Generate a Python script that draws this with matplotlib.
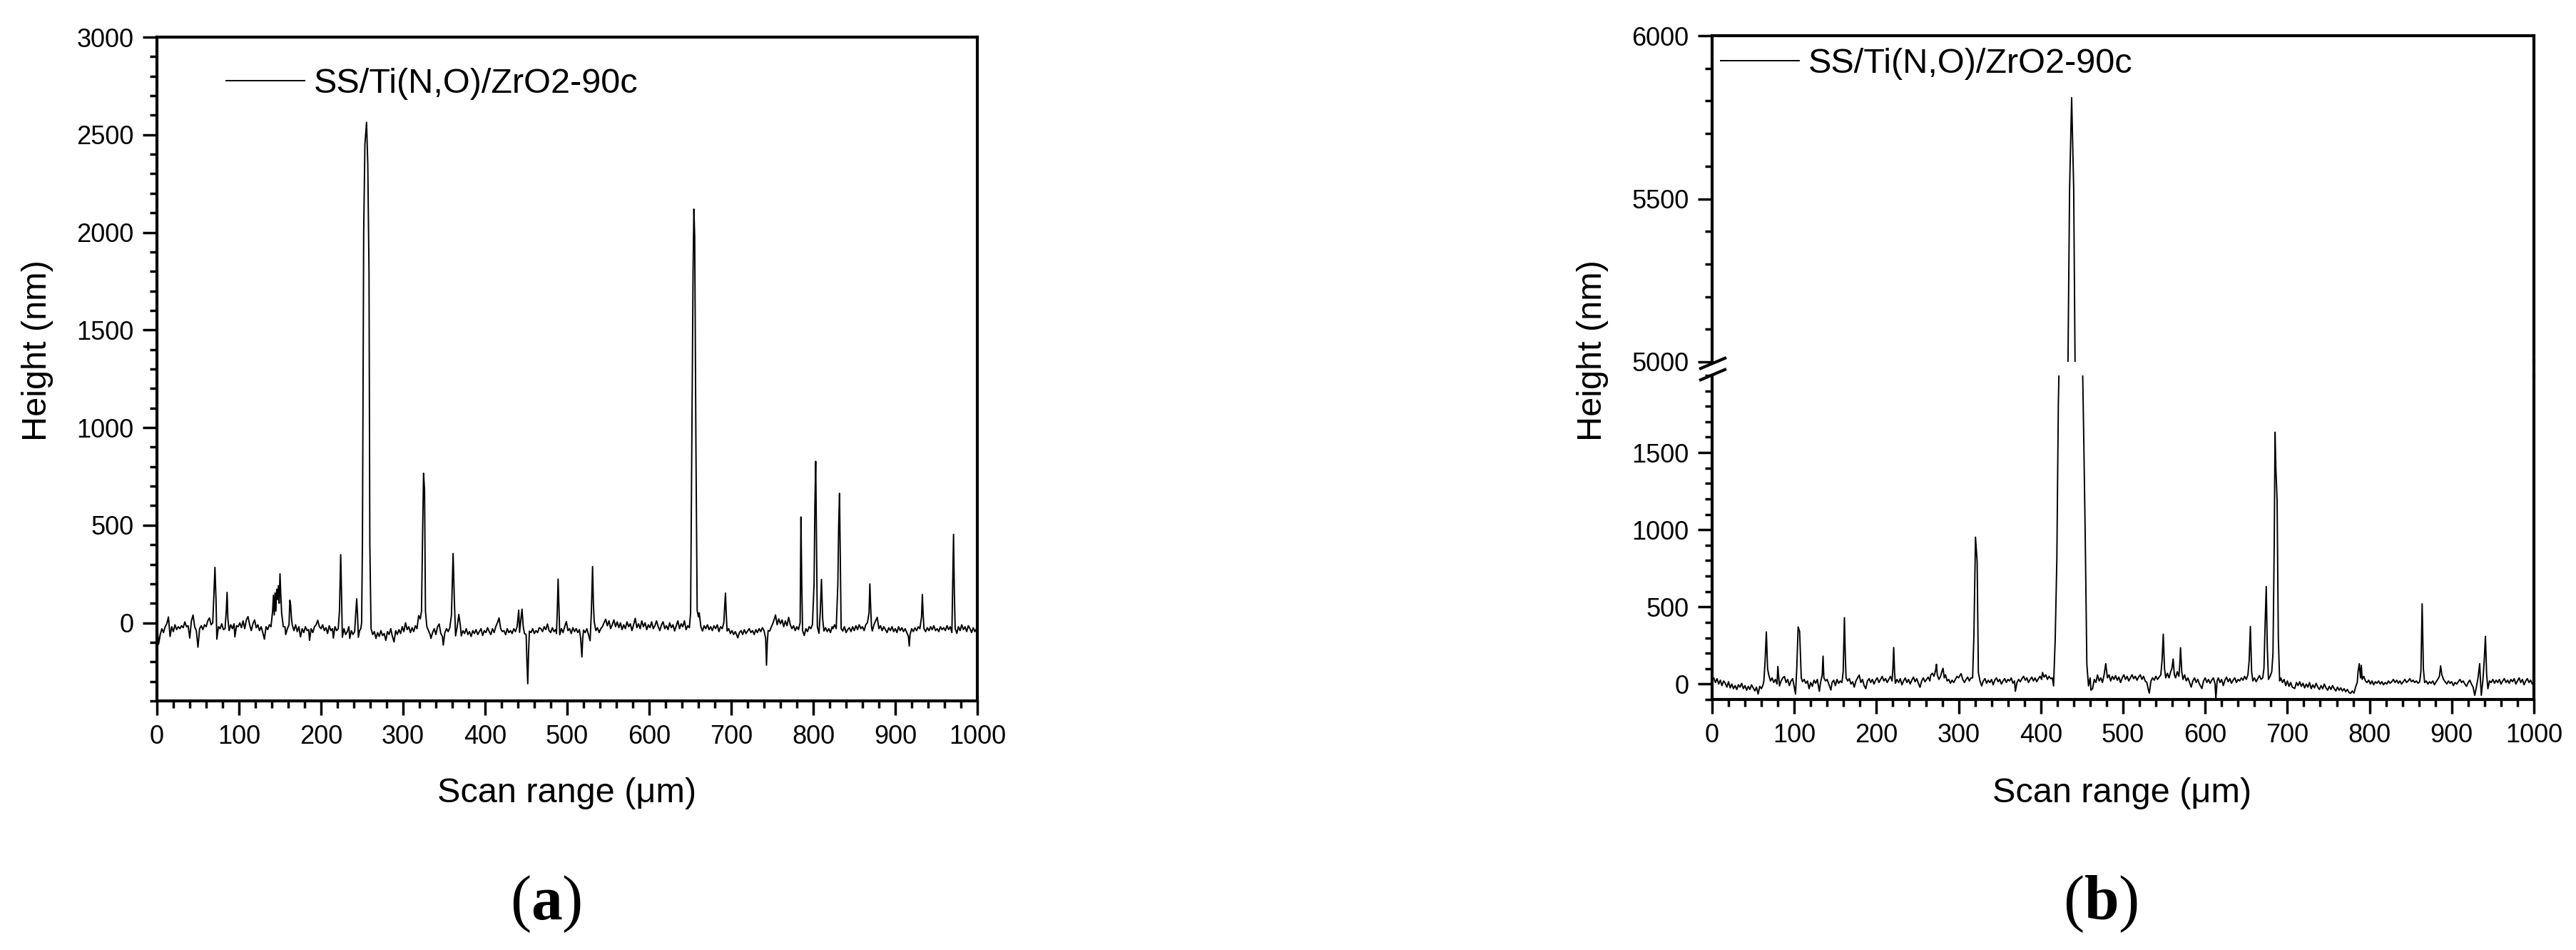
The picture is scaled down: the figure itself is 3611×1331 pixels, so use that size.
import matplotlib
matplotlib.use("Agg")
import matplotlib.pyplot as plt
from matplotlib.ticker import MultipleLocator, FixedLocator
from matplotlib.lines import Line2D

plt.rcParams['font.family'] = ['Liberation Sans', 'DejaVu Sans']
plt.rcParams['mathtext.fontset'] = 'custom'
plt.rcParams['mathtext.rm'] = 'Liberation Serif'
plt.rcParams['mathtext.bf'] = 'Liberation Serif:bold'

# ---------------- data ----------------
series_label = "SS/Ti(N,O)/ZrO2-90c"
x_label = "Scan range (\u03bcm)"
y_label = "Height (nm)"
panel_labels = ["a", "b"]

scan_a = [0, 2, 4, 6, 8, 10, 12, 14, 16, 18, 20, 22, 24, 26, 28, 30, 32, 34, 36, 38,
          40, 42, 44, 46, 48, 50, 52, 54, 56, 58, 60, 62, 64, 66, 68, 69.5, 70.7, 72, 73, 75,
          77, 79, 81, 83, 84.5, 85.5, 86.5, 88, 90, 92, 94, 95, 97, 99, 101, 103, 105, 107, 109, 111,
          113, 115, 117, 119, 121, 123, 125, 127, 129, 131, 133, 135, 137, 139, 141, 142, 143, 144, 145, 146,
          147, 148, 149, 150, 151, 152, 154, 156, 157, 159, 161, 162, 163, 164, 165, 167, 169, 171, 173, 175,
          177, 179, 181, 183, 185, 186, 188, 190, 192, 194, 196, 198, 200, 202, 204, 206, 208, 210, 212, 214,
          215, 217, 219, 221, 222.5, 224, 225, 226, 228, 230, 232, 234, 235, 237, 239, 241, 242.5, 243.5, 244.5, 245.5,
          247, 248.5, 249.5, 250.5, 252, 253.5, 255.5, 257, 258.5, 259.5, 261, 263, 265, 267, 269, 271, 273, 275, 277, 279,
          281, 283, 285, 287, 289, 291, 293, 295, 297, 299, 301, 303, 305, 307, 309, 311, 313, 315, 317, 319,
          321, 322.5, 323.8, 325, 326.2, 327.3, 329, 331, 333, 334, 336, 338, 340, 342, 344, 346, 348, 349, 351, 353,
          355, 357, 359, 361, 362.5, 364, 366, 368, 370, 371, 373, 375, 377, 379, 381, 383, 385, 387, 389, 391,
          393, 395, 397, 399, 401, 403, 405, 407, 409, 411, 413, 415, 417, 419, 421, 423, 425, 427, 429, 431,
          433, 435, 437, 439, 441, 442, 443.5, 445, 446.5, 448, 450, 451, 452, 453, 454, 456, 458, 460, 462, 464,
          466, 468, 470, 472, 474, 476, 478, 480, 482, 484, 486, 487, 488, 489, 490, 491, 493, 495, 497, 499,
          501, 503, 505, 507, 509, 511, 513, 515, 516.5, 518, 519, 520, 522, 524, 526, 528, 529.5, 531, 532, 533,
          535, 537, 539, 541, 543, 545, 547, 549, 551, 553, 555, 557, 559, 561, 563, 565, 567, 569, 571, 573,
          575, 577, 579, 581, 583, 585, 587, 589, 591, 593, 595, 597, 599, 601, 603, 605, 607, 609, 611, 613,
          615, 617, 619, 621, 623, 625, 627, 629, 631, 633, 635, 637, 639, 641, 643, 645, 647, 649, 650.5, 652,
          653.5, 654.5, 655.5, 657, 658.5, 660, 661, 663, 665, 667, 669, 671, 673, 675, 677, 679, 681, 683, 685, 687,
          689, 691, 692, 693, 694, 695, 697, 699, 701, 703, 705, 707, 708, 710, 712, 714, 716, 718, 720, 722,
          724, 726, 728, 730, 732, 734, 736, 738, 740, 742, 743, 744, 745, 747, 749, 751, 753, 754, 756, 758,
          760, 762, 764, 766, 768, 770, 772, 774, 776, 778, 780, 782, 784, 785, 786, 787, 789, 791, 793, 795,
          797, 799, 801, 802, 803, 804, 805, 807, 808.5, 810, 811.5, 813, 815, 817, 819, 821, 823, 824, 826, 828,
          830, 831, 832, 833, 834, 836, 838, 840, 842, 844, 846, 848, 850, 852, 854, 856, 858, 860, 862, 864,
          866, 868, 869, 870, 871, 872, 874, 876, 878, 880, 882, 884, 886, 888, 890, 892, 894, 896, 898, 900,
          902, 904, 906, 908, 910, 912, 914, 916, 917, 918, 920, 922, 924, 926, 928, 930, 932, 933, 934, 935,
          937, 939, 941, 943, 945, 947, 949, 951, 953, 955, 957, 959, 961, 963, 965, 967, 969, 970, 971, 972,
          973, 975, 977, 979, 981, 983, 985, 987, 989, 991, 993, 995, 997, 999, 1000]

height_a = [0, -110, -60, -30, -50, -20, -5, 30, -70, -20, -45, -10, -35, -20, -30, -15, -25, 5, -20, -15,
            -78, 10, 40, -20, -40, -125, -30, -15, -35, -10, -20, 10, 25, -10, 0, 150, 284, 120, -84, -20,
            -30, -5, -35, -30, 60, 156, 20, -40, -10, -30, -5, -72, -15, -20, 0, -25, 10, -30, 15, 32,
            -10, -40, -5, 15, -25, -10, -40, -20, -50, -84, -20, -35, -10, -20, 60, 141, 40, 153, 60, 172,
            120, 190, 100, 251, 140, 50, -20, -20, -60, -30, -10, 116, 90, 20, -12, -40, -10, -45, -20, -72,
            -30, -50, -20, -40, -35, -90, -30, -50, -20, -10, 13, -20, -30, -10, -40, -25, -55, -15, -40, -30,
            -78, -20, -40, -30, 60, 349, 150, -74, -30, -60, -45, -20, -80, -40, -60, -45, 60, 123, 40, -74,
            -40, -30, 0, 423, 2000, 2450, 2564, 2350, 1800, 400, -30, -60, -45, -80, -50, -70, -40, -65, -55, -90,
            -45, -60, -30, -70, -98, -40, -60, -35, -55, -20, -45, 0, -35, -20, -50, -25, -45, -15, -30, 37,
            20, 60, 450, 766, 680, 60, -20, -40, -60, -80, -50, -30, -60, -20, -6, -55, -70, -114, -50, -30,
            -45, -25, 40, 355, 120, -67, -20, 43, -20, -67, -40, -55, -30, -60, -45, -70, -40, -55, -35, -60,
            -45, -30, -65, -40, -50, -25, -45, -60, -30, -50, -20, 0, 25, -30, -45, -40, -61, -30, -50, -40,
            -55, -30, -45, -20, 65, -49, 10, 70, -20, -55, -60, -200, -312, -150, -43, -50, -30, -55, -40, -50,
            -25, -30, -45, -20, -35, -6, -40, -50, -25, -45, -35, -55, 60, 224, 80, -61, -30, -50, -20, 6,
            -40, -30, -55, -25, -45, -30, -50, -35, -80, -175, -80, -37, -50, -30, -60, -92, 50, 288, 100, 6,
            -40, -25, -50, -30, -20, 0, 18, -15, 10, -30, -10, 15, -20, 5, -25, 0, -35, -10, -30, 5,
            -20, -5, -40, -10, 23, -25, -5, -30, 10, -20, 0, -35, -10, -25, 5, -30, -15, 10, -20, -40,
            -10, 5, -30, -15, -35, 0, -25, -10, -42, -15, 10, -30, -5, -20, 10, -35, -15, -25, 50, 900,
            1800, 2119, 1978, 900, 63, 30, 51, -20, -42, -15, -30, -10, -35, -20, -40, -15, -30, -10, -45, -20,
            -30, 0, 80, 152, 40, -42, -30, -55, -40, -60, -45, -65, -77, -50, -40, -60, -35, -55, -42, -30,
            -50, -40, -60, -35, -50, -30, -45, -25, -40, -80, -217, -100, -40, -42, -20, 0, 25, 40, -10, 20,
            -5, 15, -20, 10, -15, 28, -10, -30, -15, -40, -20, -35, 0, 542, 200, -40, -65, -30, -45, -20,
            -30, -10, 200, 600, 827, 400, -20, -54, 50, 222, 20, -42, -25, -45, -30, -50, -20, -30, -10, -30,
            200, 500, 663, 300, -30, -42, -20, -50, -35, -25, -45, -20, -40, -15, -35, -10, -30, -20, -40, -10,
            0, 50, 199, 80, -20, -42, -10, 10, 28, -30, -15, -40, -20, -35, -50, -25, -40, -20, -45, -30,
            -50, -20, -40, -25, -45, -30, -50, -70, -119, -60, -30, -45, -25, -40, -20, -30, 30, 145, 40, -30,
            -45, -25, -40, -20, -35, -15, -40, -30, -45, -20, -35, -25, -40, -15, -35, -20, -50, 200, 453, 150,
            -30, -54, -20, -40, -10, -35, -20, -45, -15, -30, -50, -25, -45, -30, -77]

scan_b = [0, 2, 4, 6, 8, 10, 12, 14, 16, 18, 20, 22, 24, 26, 28, 30, 32, 34, 36, 38,
          40, 42, 44, 46, 48, 50, 52, 54, 56, 58, 60, 62, 63, 64.5, 66, 67.5, 69, 71, 73, 75,
          77, 79, 80, 81.5, 82, 84, 86, 88, 90, 92, 94, 96, 98, 100, 101.5, 103, 104.7, 106.5, 108.5, 110,
          112, 114, 116, 118, 120, 122, 124, 126, 128, 130.5, 132, 134, 135, 136, 138, 140, 142, 144.5, 146, 148,
          150, 152, 154, 156, 158, 159.5, 161, 162, 163, 165, 167, 169, 171, 173, 175, 177, 179, 181, 183, 185,
          187, 189, 191, 193, 195, 197, 199, 201, 203, 205, 207, 209, 211, 213, 215, 217, 219, 220, 221, 222,
          223, 225, 227, 229, 231, 233, 235, 237, 239, 241, 243, 245, 247, 249, 251, 253, 255, 257, 259, 261,
          263, 265, 266, 268, 270, 272, 273, 274, 276, 278, 279.5, 281, 282.5, 284, 286, 288, 290, 292, 294, 296,
          298, 300, 302, 303, 305, 307, 309, 311, 313, 315, 317, 318.6, 320.5, 322.5, 324, 326, 328, 330, 332, 334,
          336, 338, 340, 342, 344, 346, 348, 350, 352, 354, 356, 358, 360, 362, 364, 366, 368, 369, 371, 373,
          375, 377, 379, 381, 383, 385, 387, 389, 391, 393, 395, 397, 399, 401, 402, 404, 406, 408, 410, 412,
          414, 415.5, 417.5, 419.5, 421.3, 435, 437.5, 440, 452.3, 454, 456, 458, 460, 461, 463, 465, 467, 469, 471, 473,
          475, 477, 479, 481, 483, 485, 487, 489, 491, 493, 495, 497, 499, 501, 503, 505, 507, 509, 511, 513,
          515, 517, 519, 521, 523, 525, 527, 529, 531, 532, 534, 536, 538, 540, 542, 544, 546, 547.5, 549, 550.5,
          552, 554, 556, 558, 559.5, 561, 562.5, 564, 566, 568, 569, 570, 571.5, 573, 575, 577, 579, 581, 583, 585,
          587, 589, 591, 593, 596, 598, 600, 602, 604, 606, 608, 610, 612, 613, 614.5, 616, 618, 620, 622, 624,
          626, 628, 630, 632, 634, 636, 638, 640, 642, 644, 646, 648, 650, 652, 653.5, 655, 656.5, 658, 660, 662,
          664, 666, 668, 670, 671.5, 673, 674.3, 675.5, 677, 679, 681, 682.5, 684, 685, 686, 687.5, 689, 690.6, 692, 694,
          696, 698, 700, 702, 704, 706, 709, 711, 713, 715, 717, 719, 721, 723, 725, 727, 729, 731, 733, 735,
          737, 739, 741, 743, 745, 747, 749, 751, 753, 755, 757, 759, 761, 763, 765, 767, 769, 771, 773, 775,
          777, 779, 781, 783, 785, 786, 787.5, 789, 790, 791, 793, 795, 797, 799, 801, 803, 805, 807, 809, 811,
          813, 815, 817, 819, 821, 823, 825, 827, 829, 831, 833, 835, 837, 839, 841, 843, 845, 847, 849, 851,
          853, 855, 857, 859, 861, 862.5, 864, 865.5, 867, 869, 871, 873, 875, 877, 879, 881, 883, 885, 886.5, 888,
          890, 892, 894, 896, 898, 900, 902, 904, 906, 908, 910, 912, 914, 916, 918, 920, 922, 924, 926, 928,
          930, 932, 934, 935, 936, 938, 939.5, 941, 942.5, 944, 946, 948, 950, 952, 954, 956, 958, 960, 962, 964,
          966, 968, 970, 972, 974, 976, 978, 980, 982, 984, 986, 988, 990, 992, 994, 996, 998, 1000]

height_b = [30, 40, 10, 35, 0, 25, -10, 20, 5, -20, 15, -25, 0, -30, -10, -35, -5, -20, 5, -30,
            -10, -40, -15, -35, -5, -25, -45, -20, -65, -15, -30, -5, 20, 150, 338, 100, 58, 20, 40, 10,
            30, 0, 114, 20, -12, 20, 40, 49, 10, 30, -10, 20, 35, -20, -65, 100, 370, 340, 40, 15,
            30, 5, 20, -30, 10, -15, 25, 5, 30, -47, 10, 60, 181, 40, 20, 30, 0, -39, 10, 25,
            -10, 30, 5, 20, 10, 80, 430, 200, 40, 20, 35, 0, 15, -20, 20, 40, 58, 10, 30, -10,
            -30, 20, 35, 10, 30, 0, 25, 40, 10, 30, 50, 20, 35, 10, 30, 50, 20, 100, 237, 80,
            5, 30, 10, 35, -5, 20, 40, 10, 30, 0, 25, 45, 15, 35, 5, -21, 20, 40, 15, 30,
            45, 20, 58, 70, 50, 90, 128, 60, 30, 50, 80, 102, 40, 60, 20, 30, 5, 25, 10, 30,
            50, 40, 60, 67, 30, 10, 30, 45, 20, 40, 40, 321, 952, 794, 75, 20, -12, 20, 35, 5,
            25, 10, 30, -5, 25, 40, 15, 30, 0, 20, 35, 10, 30, 20, 40, 5, 20, -47, 10, 30,
            15, 35, 50, 25, 40, 10, 30, 45, 20, 40, 15, 35, 50, 30, 75, 45, 60, 30, 50, 35,
            40, -12, 290, 810, 1810, 5530, 5810, 5530, 1570, 970, 128, -12, 40, -40, -29, 30, 10, 59, 20, 40,
            10, 60, 132, 40, 60, 20, 50, 30, 55, 25, 45, 10, 40, 60, 30, 50, 20, 40, 60, 35,
            50, 25, 45, 60, 30, 50, 20, 10, -40, -59, 20, 40, 25, 50, 30, 45, 60, 150, 323, 100,
            40, 70, 40, 80, 100, 162, 60, 40, 80, 50, 120, 235, 80, 30, 60, 20, 40, 10, -20, 20,
            40, 10, 30, 0, -29, 20, 40, 10, 30, 5, 25, 40, 0, -95, 20, 40, 10, 30, -10, 25,
            45, 15, 35, 5, 25, 40, 10, 30, 20, 40, 25, 50, 30, 60, 150, 373, 80, 20, 40, 15,
            35, 55, 30, 40, 100, 400, 632, 250, 30, 50, 80, 200, 900, 1632, 1400, 1191, 300, 20, 40, 10,
            30, -10, 20, -15, 10, -20, -29, 10, -10, 15, -15, 5, -25, 0, -20, 10, -30, -5, -25, 5,
            -20, -35, -10, -30, 0, -25, -40, -15, -35, -10, -30, -45, -20, -40, -25, -45, -30, -50, -35, -55,
            -60, -45, -59, -20, 10, 80, 132, 40, 121, 30, 50, 20, 10, 25, 0, 20, -5, 15, 5, 20,
            0, 15, -5, 10, 0, 20, 5, 15, 30, 10, 25, 5, 20, 0, 15, 30, 10, 20, 35, 15,
            25, 10, 20, 5, 15, 80, 520, 100, 10, 20, 0, 15, 5, 20, -5, 15, 30, 50, 118, 60,
            30, 15, 0, 20, 5, 15, -10, 10, 0, 15, 30, 10, 20, 0, -15, 10, 25, 0, -20, -73,
            -20, 40, 132, 20, -73, 30, 150, 309, 60, -30, 20, 10, 30, 5, 25, 10, 30, 0, 20, 35,
            10, 25, 5, 30, 15, 35, 0, 20, 40, 10, 30, -5, 20, 35, 10, 25, 0, 20]

x_ticks = [0, 100, 200, 300, 400, 500, 600, 700, 800, 900, 1000]
y_ticks_a = [0, 500, 1000, 1500, 2000, 2500, 3000]
y_ticks_b_low = [0, 500, 1000, 1500]
y_ticks_b_high = [5000, 5500, 6000]

# ---------------- layout ----------------
W, H = 3612, 1331
fig = plt.figure(figsize=(W / 100, H / 100), dpi=100)


def rect(x0, y0, x1, y1):
    return [x0 / W, 1 - y1 / H, (x1 - x0) / W, (y1 - y0) / H]


TICK_FS = 26
LABEL_FS = 35
LEG_FS = 35
SPINE_LW = 3.0
LINE_LW = 1.4


def style(ax, bottom=True):
    for s in ax.spines.values():
        s.set_linewidth(SPINE_LW)
    ax.tick_params(axis='both', which='major', direction='out', length=14.5, width=2.5,
                   labelsize=TICK_FS, top=False, right=False, pad=9)
    ax.tick_params(axis='both', which='minor', direction='out', length=7.2, width=2.5,
                   top=False, right=False)
    if not bottom:
        ax.tick_params(axis='x', which='both', bottom=False, labelbottom=False)


# ---- panel (a)
axA = fig.add_axes(rect(220, 52, 1370, 982))
axA.plot(scan_a, height_a, color='black', lw=LINE_LW, label=series_label)
axA.set_xlim(0, 1000)
axA.set_ylim(-400, 3000)
axA.xaxis.set_major_locator(FixedLocator(x_ticks))
axA.xaxis.set_minor_locator(MultipleLocator(20))
axA.yaxis.set_major_locator(FixedLocator(y_ticks_a))
axA.yaxis.set_minor_locator(MultipleLocator(100))
style(axA)
axA.legend(loc='center left', bbox_to_anchor=(0.0845, 0.93), frameon=False, fontsize=LEG_FS,
           handlelength=2.26, handletextpad=0.27, borderpad=0, borderaxespad=0)

# ---- panel (b) : broken y axis
axBt = fig.add_axes(rect(2400, 50, 3552, 507))
axBb = fig.add_axes(rect(2400, 526, 3552, 980))
for ax in (axBt, axBb):
    ax.plot(scan_b, height_b, color='black', lw=LINE_LW, label=series_label)
    ax.set_xlim(0, 1000)
    ax.xaxis.set_major_locator(FixedLocator(x_ticks))
    ax.xaxis.set_minor_locator(MultipleLocator(20))
    ax.yaxis.set_minor_locator(MultipleLocator(100))
axBt.set_ylim(5000, 6000)
axBt.yaxis.set_major_locator(FixedLocator(y_ticks_b_high))
axBb.set_ylim(-100, 2000)
axBb.yaxis.set_major_locator(FixedLocator(y_ticks_b_low))
style(axBt, bottom=False)
style(axBb)
axBt.spines['bottom'].set_visible(False)
axBb.spines['top'].set_visible(False)
axBt.legend(loc='center left', bbox_to_anchor=(0.0104, 0.9125), frameon=False, fontsize=LEG_FS,
            handlelength=2.26, handletextpad=0.27, borderpad=0, borderaxespad=0)

# continuous right spine across the break
fig.add_artist(Line2D([3552 / W, 3552 / W], [1 - 505 / H, 1 - 528 / H],
                      transform=fig.transFigure, color='black', lw=SPINE_LW))
# break marks
for (x0, y0, x1, y1) in [(2382, 517, 2420, 501), (2382, 533, 2420, 517)]:
    fig.add_artist(Line2D([x0 / W, x1 / W], [1 - y0 / H, 1 - y1 / H],
                          transform=fig.transFigure, color='black', lw=SPINE_LW,
                          solid_capstyle='butt'))

# ---- axis titles and panel labels
for dx, plabel in zip([0, 2180], panel_labels):
    fig.text((795 + dx) / W, 1 - 1124 / H, x_label, ha='center', va='baseline', fontsize=LABEL_FS)
    fig.text((75 + dx) / W, 1 - 491 / H, y_label, ha='right', va='center', rotation=90,
             fontsize=LABEL_FS)
    fig.text((765 + dx) / W, 1 - 1288 / H, r'$\mathrm{(}\mathbf{%s}\mathrm{)}$' % plabel,
             ha='center', va='baseline', fontsize=63)

fig.savefig('out.png', dpi=100)
